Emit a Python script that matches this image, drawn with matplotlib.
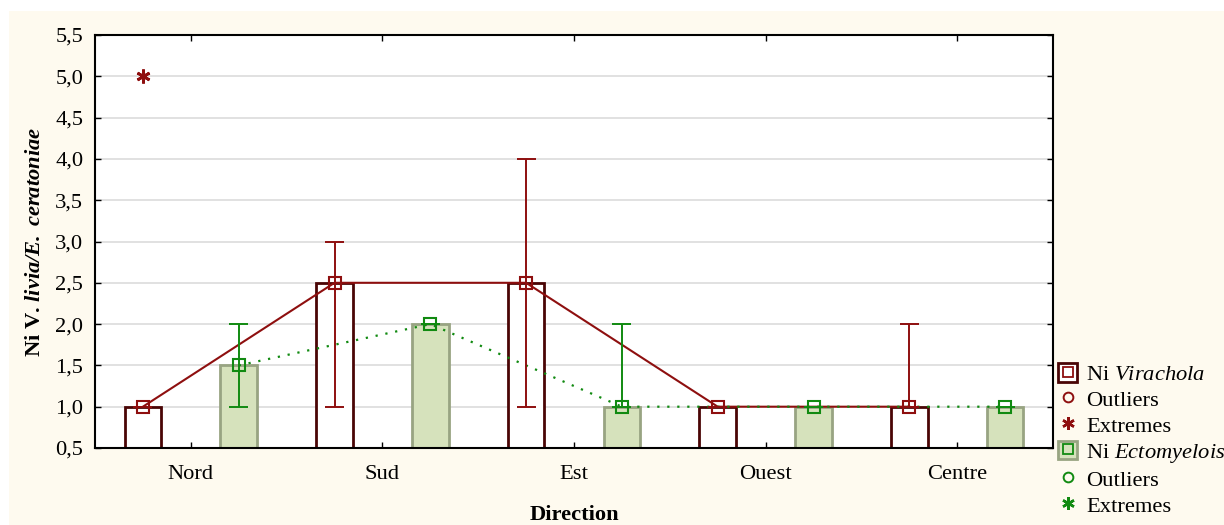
import numpy as np
import matplotlib
matplotlib.use("Agg")
import matplotlib.pyplot as plt
from matplotlib.patches import Patch, Rectangle
from matplotlib.lines import Line2D


directions = ["Nord", "Sud", "Est", "Ouest", "Centre"]

# Virachola: median, whisker min / max, extremes
vir_median = [1.0, 2.5, 2.5, 1.0, 1.0]
vir_low = [1.0, 1.0, 1.0, 1.0, 1.0]
vir_high = [1.0, 3.0, 4.0, 1.0, 2.0]
vir_extreme_x = [0]
vir_extreme_y = [5.0]

# Ectomyelois: median, whisker min / max
ect_median = [1.5, 2.0, 1.0, 1.0, 1.0]
ect_low = [1.0, 2.0, 1.0, 1.0, 1.0]
ect_high = [2.0, 2.0, 2.0, 1.0, 1.0]

y_ticks = [0.5, 1.0, 1.5, 2.0, 2.5, 3.0, 3.5, 4.0, 4.5, 5.0, 5.5]
y_tick_labels = [f"{v:.1f}".replace(".", ",") for v in y_ticks]

plt.rcParams["font.family"] = ["Liberation Serif", "DejaVu Serif"]
plt.rcParams["mathtext.fontset"] = "custom"
plt.rcParams["mathtext.rm"] = "Liberation Serif"
plt.rcParams["mathtext.it"] = "Liberation Serif:italic"
plt.rcParams["mathtext.bf"] = "Liberation Serif:bold"
plt.rcParams["mathtext.bfit"] = "Liberation Serif:italic:bold"

cream = "#fefaef"
vir_edge = "#4a0505"
vir_red = "#8e0f0f"
ect_face = "#d6e2bc"
ect_edge = "#98a482"
ect_green = "#118a11"
fs = 16.2

fig = plt.figure(figsize=(12.24, 5.25), dpi=100, facecolor="white")
fig.patches.append(Rectangle((9 / 1224, 0), 1 - 9 / 1224, 1 - 11 / 525,
                             transform=fig.transFigure, facecolor=cream,
                             edgecolor="none", zorder=-10))
ax = fig.add_axes([95 / 1224, 1 - 448 / 525, 958 / 1224, 413 / 525])
ax.set_facecolor("white")

x = np.arange(len(directions))
xv = x - 0.25
xe = x + 0.25
bar_w = 0.19
cap_w = 0.05

ax.bar(xv, vir_median, width=bar_w, facecolor="white", edgecolor=vir_edge,
       linewidth=2, zorder=2)
ax.bar(xe, ect_median, width=bar_w, facecolor=ect_face, edgecolor=ect_edge,
       linewidth=2, zorder=2)

# median lines between directions
ax.plot(xv, vir_median, color=vir_red, lw=1.5, zorder=3)
ax.plot(xe, ect_median, color=ect_green, lw=1.6, linestyle=(0, (1, 3.5)), zorder=3)

# whiskers
for xs, lo, hi, col in [(xv, vir_low, vir_high, vir_red),
                        (xe, ect_low, ect_high, ect_green)]:
    ax.vlines(xs, lo, hi, color=col, lw=1.4, zorder=4)
    ax.hlines(lo, xs - cap_w, xs + cap_w, color=col, lw=1.4, zorder=4)
    ax.hlines(hi, xs - cap_w, xs + cap_w, color=col, lw=1.4, zorder=4)

ax.plot(xv, vir_median, linestyle="none", marker="s", ms=8.5, mfc="none",
        mec=vir_red, mew=1.5, zorder=5)
ax.plot(xe, ect_median, linestyle="none", marker="s", ms=8.5, mfc="none",
        mec=ect_green, mew=1.5, zorder=5)
ax.plot(np.array(vir_extreme_x) - 0.25, vir_extreme_y, linestyle="none",
        marker=(6, 2, 0), ms=10, mec=vir_red, mew=2, zorder=5)

ax.set_xlim(-0.5, len(directions) - 0.5)
ax.set_ylim(0.5, 5.5)
ax.set_yticks(y_ticks)
ax.set_yticklabels(y_tick_labels)
ax.set_xticks(x)
ax.set_xticklabels(directions)
ax.yaxis.grid(True, color="#dcdcdc", lw=1.2)
ax.set_axisbelow(True)
ax.tick_params(direction="in", length=4, width=1, labelsize=fs,
               top=True, right=True, colors="black")
ax.tick_params(axis="x", pad=12.5)
ax.tick_params(axis="y", pad=8.5)
for sp in ax.spines.values():
    sp.set_linewidth(1.5)

ax.set_xlabel("Direction", fontsize=fs, fontweight="bold", labelpad=15)
ax.set_ylabel(r"Ni V. $\mathbfit{livia/E.\ ceratoniae}$", fontsize=fs,
              fontweight="bold", labelpad=7.5)

handles = [
    (Patch(facecolor="white", edgecolor=vir_edge, lw=2),
     Line2D([], [], marker="s", ms=7, mfc="none", mec=vir_red, mew=1.3, ls="none")),
    Line2D([], [], marker="o", ms=7, mfc="none", mec=vir_red, mew=1.4, ls="none"),
    Line2D([], [], marker=(6, 2, 0), ms=9, mec=vir_red, mew=1.8, ls="none"),
    (Patch(facecolor=ect_face, edgecolor=ect_edge, lw=2),
     Line2D([], [], marker="s", ms=7, mfc="none", mec=ect_green, mew=1.3, ls="none")),
    Line2D([], [], marker="o", ms=7, mfc="none", mec=ect_green, mew=1.4, ls="none"),
    Line2D([], [], marker=(6, 2, 0), ms=9, mec=ect_green, mew=1.8, ls="none"),
]
labels = [r"Ni $\mathit{Virachola}$", "Outliers", "Extremes",
          r"Ni $\mathit{Ectomyelois}$", "Outliers", "Extremes"]
fig.legend(handles, labels, loc="upper left",
           bbox_to_anchor=(1058 / 1224, 1 - 363 / 525),
           frameon=False, fontsize=fs, borderpad=0, borderaxespad=0,
           handlelength=0.85, handleheight=0.9, handletextpad=0.4,
           labelspacing=0.17)

fig.savefig("out.png", dpi=100, facecolor=fig.get_facecolor())
